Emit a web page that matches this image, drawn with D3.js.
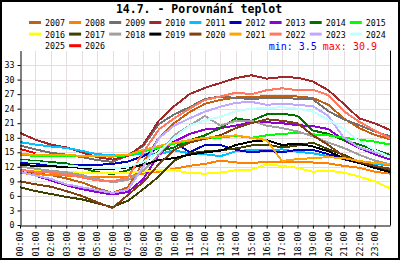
<!DOCTYPE html>
<html>
<head>
<meta charset="utf-8">
<script src="https://cdn.jsdelivr.net/npm/d3@7"></script>
<style>
  body { margin: 0; background: #fff; }
  svg { display: block; }
  text { font-family: "DejaVu Sans Mono", monospace; }
</style>
</head>
<body>
<div id="chart"></div>
<script>
// data, hourly
var years = ['2007','2008','2009','2010','2011','2012','2013','2014','2015',
             '2016','2017','2018','2019','2020','2021','2022','2023','2024',
             '2025','2026'];
var colors = ['#c06010','#ff8000','#707070','#a02828','#00c0ff','#0000c0','#9000d0','#007000','#00ff00',
              '#ffff00','#404000','#a0a0a0','#000000','#804010','#ffa500','#ff7860','#c0a8ff','#c0ffff',
              '#ffffff','#ff0000'];
var hours = [0,1,2,3,4,5,6,7,8,9,10,11,12,13,14,15,16,17,18,19,20,21,22,23,24];
var hourLabels = ['00:00','01:00','02:00','03:00','04:00','05:00','06:00','07:00','08:00','09:00','10:00','11:00',
                  '12:00','13:00','14:00','15:00','16:00','17:00','18:00','19:00','20:00','21:00','22:00','23:00'];
var yTicks = [0,3,6,9,12,15,18,21,24,27,30,33];

var t2007 = [10.8,10.6,10.3,9.6,8.8,7.6,6.6,7.8,13.0,18.0,21.0,23.3,25.0,25.8,26.3,26.4,26.6,26.7,26.5,26.2,24.8,22.0,20.0,18.6,17.7];
var t2008 = [10.7,10.5,10.3,10.2,10.0,9.8,9.9,10.0,10.6,11.0,11.6,12.2,12.6,13.3,12.9,12.8,13.0,13.1,13.0,12.9,12.7,12.2,11.8,11.0,10.6];
var t2009 = [16.4,15.6,14.9,14.5,14.0,13.4,13.0,14.4,16.3,20.8,22.8,24.3,26.0,26.5,26.2,26.0,26.2,26.3,26.0,25.9,23.5,21.8,20.6,19.3,18.3];
var t2010 = [19.0,17.6,16.6,16.0,15.0,14.0,13.5,14.2,16.6,21.5,24.5,27.0,28.3,29.3,30.3,30.9,30.2,30.5,30.4,29.6,27.8,25.0,22.0,21.0,19.6];
var t2011 = [17.1,16.6,16.2,15.9,15.3,14.6,14.4,14.5,14.6,14.6,15.4,14.8,14.6,14.2,15.2,15.5,15.4,15.6,15.1,14.8,14.2,13.6,13.2,12.6,12.3];
var t2012 = [12.8,12.7,12.5,12.3,12.3,12.4,12.6,13.1,14.2,16.0,17.2,15.0,16.5,16.5,15.5,15.0,15.3,15.0,15.5,15.5,14.6,13.6,12.8,11.8,11.2];
var t2013 = [11.1,10.2,9.2,8.2,7.4,6.8,6.3,6.8,9.5,14.5,17.2,18.8,19.7,20.0,20.5,21.2,21.2,21.0,20.6,20.4,19.8,17.5,15.9,14.6,13.5];
var t2014 = [13.5,13.2,13.0,12.7,11.8,10.9,10.5,11.3,12.8,15.2,16.0,17.5,18.5,20.0,22.0,21.5,22.8,23.0,22.5,19.5,18.8,17.5,16.6,15.5,14.5];
var t2015 = [14.4,14.3,14.3,14.3,14.2,14.2,14.1,14.4,15.2,15.9,16.8,17.4,17.8,18.0,18.4,18.0,18.5,18.8,19.0,18.7,18.5,18.0,17.6,17.2,16.6];
var t2016 = [11.3,11.1,11.0,10.9,10.8,10.7,10.7,10.8,11.0,11.3,11.3,10.7,10.6,10.8,11.3,11.4,12.5,12.2,11.8,11.0,11.2,10.8,10.0,9.0,7.6];
var t2017 = [7.8,7.0,6.4,5.8,5.3,4.5,3.7,5.0,7.4,10.0,13.3,14.8,15.2,15.4,15.8,16.4,16.6,16.0,16.4,17.0,15.6,14.5,13.0,12.0,11.1];
var t2018 = [12.1,11.6,11.2,10.9,10.3,9.5,8.8,9.3,11.2,14.5,18.5,20.5,22.5,20.5,21.5,21.5,20.5,20.0,19.3,18.3,17.0,15.9,14.5,13.3,12.5];
var t2019 = [12.4,12.2,12.1,12.0,11.8,11.6,11.6,11.9,12.4,13.4,13.8,14.5,15.0,15.3,16.5,17.2,17.5,16.5,16.8,16.2,15.2,13.8,12.8,11.8,10.9];
var t2020 = [9.0,8.4,7.9,7.0,6.0,4.7,3.5,6.2,8.9,12.5,15.5,17.0,17.8,18.5,20.0,21.0,21.8,21.5,21.0,18.5,16.5,14.2,13.0,12.2,11.6];
var t2021 = [14.6,14.5,14.4,14.4,14.3,14.3,14.3,14.5,15.5,16.3,17.0,17.5,18.0,18.2,18.5,18.0,17.5,13.2,13.6,13.8,14.0,13.8,13.2,12.8,12.6];
var t2022 = [11.4,11.0,10.8,10.5,9.8,9.2,9.0,9.8,15.0,19.7,22.0,24.0,25.8,26.5,27.3,27.0,27.8,28.2,27.8,27.9,26.8,23.5,21.3,19.5,17.9];
var t2023 = [11.0,10.2,9.5,8.4,7.8,7.2,6.6,7.3,12.0,17.9,20.5,22.0,23.4,24.4,25.2,25.4,24.8,25.0,24.8,24.5,22.5,18.0,16.0,15.0,14.1];
var t2024 = [13.2,13.0,12.6,12.3,12.0,11.8,11.7,12.0,13.0,15.0,18.0,20.5,21.6,22.3,23.5,24.0,24.1,24.3,24.0,23.4,21.8,19.8,17.3,15.5,14.0];
var t2025 = [];
var t2026 = [15.7,14.8];

var series = [t2007,t2008,t2009,t2010,t2011,t2012,t2013,t2014,t2015,t2016,
              t2017,t2018,t2019,t2020,t2021,t2022,t2023,t2024,t2025,t2026];
var title = '14.7. - Porovnání teplot';
var minValue = '3.5', maxValue = '30.9';

var W = 400, H = 260;
var svg = d3.select('#chart').append('svg')
            .attr('width', W)
            .attr('height', H);

svg.append('rect')
   .attr('x', 1).attr('y', 1)
   .attr('width', W - 2).attr('height', H - 2)
   .attr('fill', '#fff')
   .attr('stroke', '#000')
   .attr('stroke-width', 2);

var x = d3.scaleLinear().domain([0, 24]).range([20, 390]);
var y = d3.scaleLinear().domain([0, 36]).range([225, 50.5]);

// grid
var grid = svg.append('g').attr('shape-rendering', 'crispEdges');
grid.selectAll('line.v')
    .data(hours.slice(1))
    .enter().append('line')
    .attr('x1', function(d){ return Math.round(x(d)) + 0.5; })
    .attr('x2', function(d){ return Math.round(x(d)) + 0.5; })
    .attr('y1', y(36)).attr('y2', y(0))
    .attr('stroke', '#e6dede');
grid.selectAll('line.h')
    .data(yTicks.slice(1))
    .enter().append('line')
    .attr('x1', x(0)).attr('x2', x(24))
    .attr('y1', function(d){ return Math.round(y(d)) + 0.5; })
    .attr('y2', function(d){ return Math.round(y(d)) + 0.5; })
    .attr('stroke', '#e6dede');

// lines
var line = d3.line()
             .x(function(d, i){ return x(hours[i]); })
             .y(function(d){ return y(d); });

svg.append('g').selectAll('path')
   .data(series)
   .enter().append('path')
   .attr('d', function(d){ return d.length ? line(d) : null; })
   .attr('fill', 'none')
   .attr('stroke', function(d, i){ return colors[i]; })
   .attr('stroke-width', 2)
   .attr('stroke-linejoin', 'round')
   .attr('shape-rendering', 'crispEdges');

// axes
var yAxis = svg.append('g')
   .attr('transform', 'translate(20.5,0)')
   .call(d3.axisLeft(y).tickValues(yTicks).tickSize(3).tickSizeOuter(0).tickFormat(d3.format('d')));
var xAxis = svg.append('g')
   .attr('transform', 'translate(0,225.5)')
   .call(d3.axisBottom(x).tickValues(hours.slice(0, 24)).tickSize(3).tickSizeOuter(0)
         .tickFormat(function(d, i){ return hourLabels[i]; }));
xAxis.selectAll('text')
     .attr('transform', 'rotate(-90)')
     .attr('text-anchor', 'end')
     .attr('x', -6)
     .attr('y', 0)
     .attr('dy', '0.35em');
[yAxis, xAxis].forEach(function(a){
  a.selectAll('text').attr('font-family', '"DejaVu Sans Mono", monospace').attr('font-size', 8.3).attr('fill', '#000');
  a.selectAll('path, line').attr('stroke', '#000');
});
svg.append('line')
   .attr('x1', 390.5).attr('x2', 390.5)
   .attr('y1', y(36)).attr('y2', 225.5)
   .attr('stroke', '#000');

// title
svg.append('text')
   .attr('x', 199).attr('y', 13.3)
   .attr('text-anchor', 'middle')
   .attr('font-size', 11.5)
   .attr('font-weight', 'bold')
   .text(title);

// legend
var legend = svg.append('g');
years.forEach(function(yr, i){
  var sx = 29 + (i % 9) * 40.1;
  var sy = 22.5 + Math.floor(i / 9) * 11.6;
  legend.append('rect')
        .attr('x', sx).attr('y', sy - 1.5)
        .attr('width', 12).attr('height', 3)
        .attr('fill', colors[i]);
  legend.append('text')
        .attr('x', sx + 16).attr('y', sy + 3.5)
        .attr('font-size', 8.3)
        .text(yr);
});

// min / max
var mm = svg.append('text')
            .attr('x', 377).attr('y', 49.5)
            .attr('text-anchor', 'end')
            .attr('font-size', 10);
mm.append('tspan').attr('fill', '#0000ff').text('min: ' + minValue + ' ');
mm.append('tspan').attr('fill', '#ff0000').text('max: ' + maxValue);
</script>
</body>
</html>
